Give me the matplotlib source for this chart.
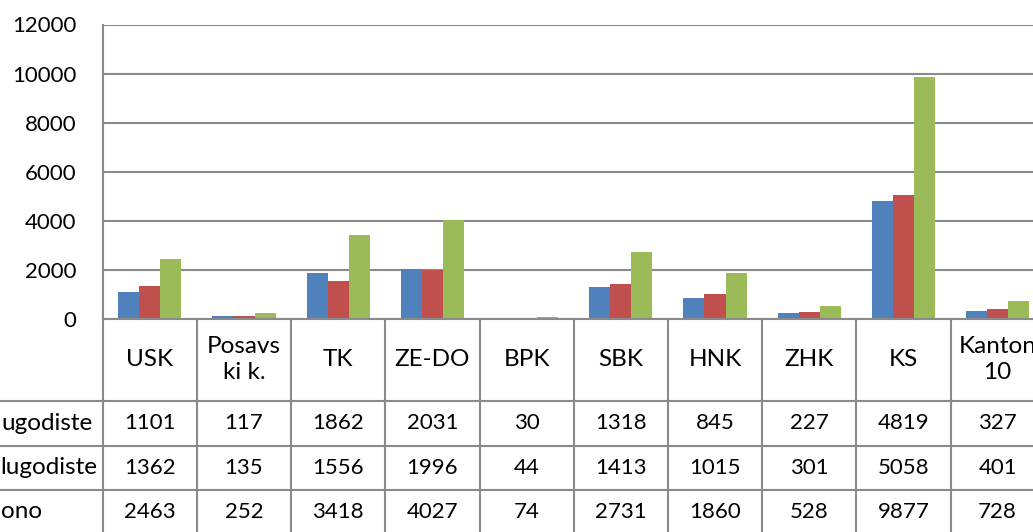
import matplotlib
matplotlib.use("Agg")
import matplotlib.pyplot as plt
import numpy as np

categories = ["USK", "Posavs\nki k.", "TK", "ZE-DO", "BPK", "SBK", "HNK", "ZHK", "KS", "Kanton\n10"]
row_labels = ["ugodiste", "lugodiste", "ono"]
series1 = [1101, 117, 1862, 2031, 30, 1318, 845, 227, 4819, 327]
series2 = [1362, 135, 1556, 1996, 44, 1413, 1015, 301, 5058, 401]
series3 = [2463, 252, 3418, 4027, 74, 2731, 1860, 528, 9877, 728]
yticks = [0, 2000, 4000, 6000, 8000, 10000, 12000]

colors = ["#4F81BD", "#C0504D", "#9BBB59"]
grid_c = "#8a8a8a"
FONT = "Lato"
FS = 16
FS_TXT = 17.5

W, H = 1033, 532
fig = plt.figure(figsize=(W / 100, H / 100), dpi=100)
ax_left, ax_right, ax_top, ax_bot = 102.7, 1044.7, 24.5, 319.0
ax = fig.add_axes([ax_left / W, 1 - ax_bot / H, (ax_right - ax_left) / W, (ax_bot - ax_top) / H])

x = np.arange(len(categories))
bw = 0.223
for k, (vals, c) in enumerate(zip([series1, series2, series3], colors)):
    ax.bar(x + (k - 1) * bw, vals, width=bw, color=c, edgecolor="none", zorder=3)

ax.set_xlim(-0.5, len(categories) - 0.5)
ax.set_ylim(0, 12000)
ax.set_yticks(yticks)
ax.set_yticklabels([str(t) for t in yticks], fontfamily=FONT, fontsize=FS)
ax.tick_params(axis="y", length=0, pad=19)
ax.set_xticks([])
ax.grid(axis="y", color=grid_c, linewidth=1.5, zorder=0)
for s in ["top", "right"]:
    ax.spines[s].set_visible(False)
for s in ["left", "bottom"]:
    ax.spines[s].set_color(grid_c)
    ax.spines[s].set_linewidth(1.5)
    ax.spines[s].set_zorder(4)

# data table (in pixel coords of the figure)
def fx(px):
    return px / W

def fy(py):
    return 1 - py / H

cw = (ax_right - ax_left) / len(categories)
row_lines = [400.7, 445.7, 490.0]
row_bottom = 533.0
for i in range(len(categories) + 1):
    xp = ax_left + i * cw
    fig.add_artist(plt.Line2D([fx(xp), fx(xp)], [fy(ax_bot), fy(row_bottom)], color=grid_c, lw=1.5))
for yp in row_lines:
    fig.add_artist(plt.Line2D([fx(-5), fx(ax_right + 5)], [fy(yp), fy(yp)], color=grid_c, lw=1.5))

header_c = (ax_bot + row_lines[0]) / 2
for i, cat in enumerate(categories):
    xc = ax_left + (i + 0.5) * cw
    fig.text(fx(xc), fy(header_c), cat, ha="center", va="center", fontfamily=FONT,
             fontsize=FS_TXT, linespacing=1.3)

row_tops = [row_lines[0], row_lines[1], row_lines[2]]
row_bots = [row_lines[1], row_lines[2], row_bottom]
label_x = [1.5, 0.5, 0.5]
for r, vals in enumerate([series1, series2, series3]):
    yc = (row_tops[r] + row_bots[r]) / 2
    fig.text(fx(label_x[r]), fy(yc), row_labels[r], ha="left", va="center",
             fontfamily=FONT, fontsize=FS_TXT)
    for i, v in enumerate(vals):
        xc = ax_left + (i + 0.5) * cw
        fig.text(fx(xc), fy(yc), str(v), ha="center", va="center", fontfamily=FONT, fontsize=FS)

fig.savefig("out.png", dpi=100)
